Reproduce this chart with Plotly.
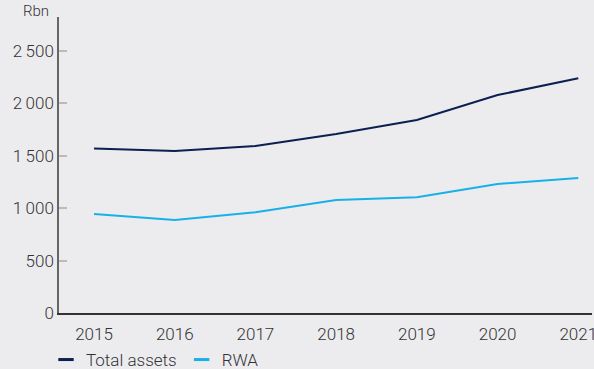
import plotly.graph_objects as go

years = [2015, 2016, 2017, 2018, 2019, 2020, 2021]
total_assets = [1570, 1546, 1594, 1708, 1842, 2080, 2240]
rwa = [945, 887, 962, 1078, 1105, 1231, 1288]
y_tickvals = [0, 500, 1000, 1500, 2000, 2500]
y_ticktext = ["0", "500", "1\u2009000", "1\u2009500", "2\u2009000", "2\u2009500"]

NAVY = "#0b2050"
BLUE = "#17b1e8"
BG = "#ececef"
TXT = "#333333"
FONT = "Roboto"
W = 300
FS = 17

fig = go.Figure()
fig.add_trace(go.Scatter(x=years, y=total_assets, mode="lines", line=dict(color=NAVY, width=2),
                         showlegend=False))
fig.add_trace(go.Scatter(x=years, y=rwa, mode="lines", line=dict(color=BLUE, width=2),
                         showlegend=False))
for name, col in [("Total assets", NAVY), ("RWA", BLUE)]:
    fig.add_trace(go.Scatter(x=[None], y=[None], mode="markers", name=name,
                             marker=dict(symbol="line-ew", size=11, color=col,
                                         line=dict(color=col, width=3))))

fig.update_layout(
    width=594, height=369,
    margin=dict(l=59, r=2, t=17, b=56, autoexpand=False),
    paper_bgcolor=BG, plot_bgcolor=BG,
    font=dict(family=FONT, size=FS, color=TXT, weight=W),
    legend=dict(orientation="h", x=46 / 594, xref="container", xanchor="left",
                y=9 / 369, yref="container", yanchor="middle",
                font=dict(size=FS, color=TXT, weight=W), bgcolor="rgba(0,0,0,0)"),
    xaxis=dict(range=[2014.566, 2021.17], tickvals=years, ticktext=[str(y) for y in years],
               showgrid=False, zeroline=False, showline=True, linecolor="#333333", linewidth=2,
               ticks="", ticklabelstandoff=5, ticklabeloverflow="allow"),
    yaxis=dict(range=[0, 2825], tickvals=y_tickvals, ticktext=y_ticktext,
               showgrid=False, zeroline=False, showline=True, linecolor="#666666", linewidth=1.5,
               ticks="inside", ticklen=8, tickcolor="#bbbbbb", tickwidth=1.5),
    annotations=[dict(text="Rbn", xref="paper", yref="paper", x=-0.015, y=1.02,
                      xanchor="right", yanchor="middle", showarrow=False,
                      font=dict(size=15, color=TXT, weight=W))],
)
fig.write_html("out.html")
